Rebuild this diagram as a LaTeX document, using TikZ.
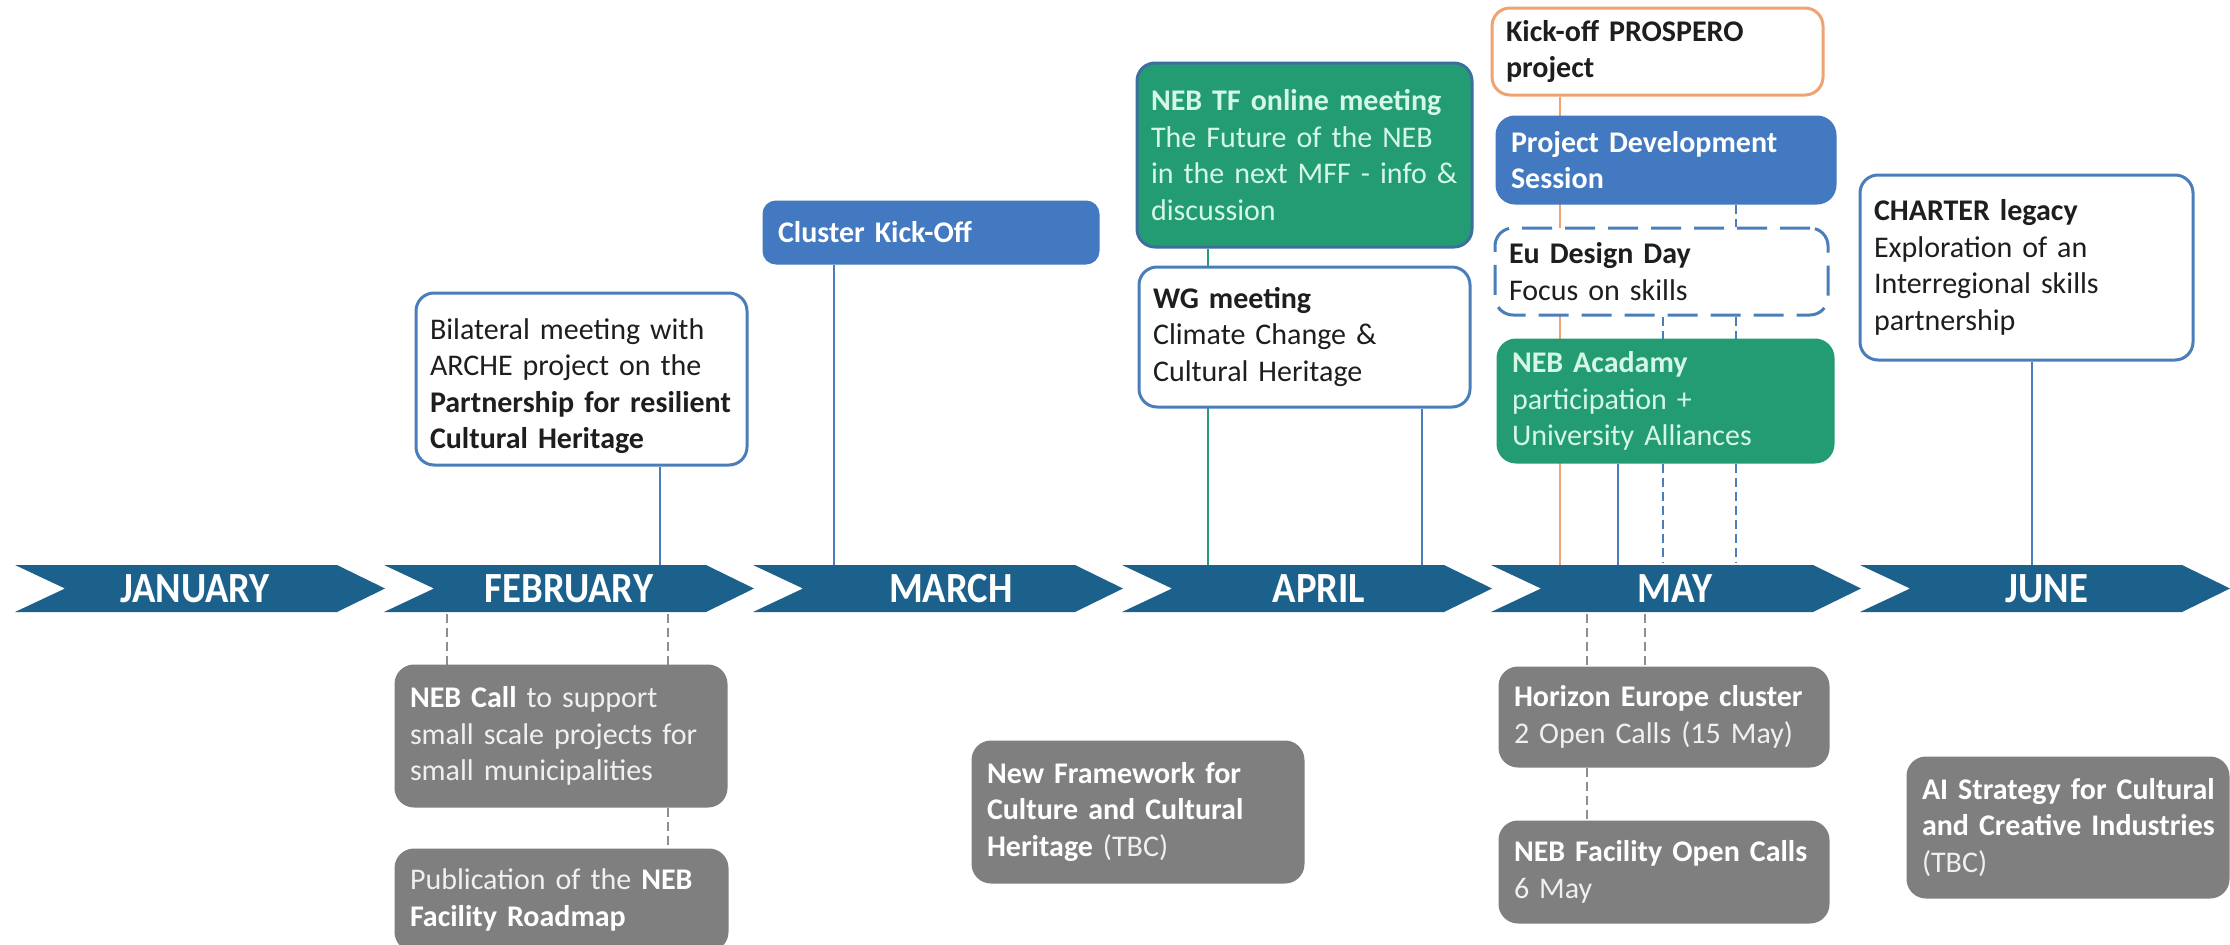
\documentclass[tikz,border=0pt]{standalone}
\usepackage{fontspec}
\setmainfont{Carlito}
\usepackage{graphicx}
\pgfdeclarelayer{back}
\pgfdeclarelayer{bg}
\pgfsetlayers{back,bg,main}
\definecolor{barblue}{HTML}{1C608C}
\definecolor{bordblue}{HTML}{4A7EBB}
\definecolor{fillblue}{HTML}{4279C0}
\definecolor{evgreen}{HTML}{239C74}
\definecolor{mint}{HTML}{D4F7E6}
\definecolor{evgray}{HTML}{7F7F7F}
\definecolor{lgray}{HTML}{F0F0F0}
\definecolor{orng}{HTML}{F0A272}
\definecolor{dgray}{HTML}{8E8E8E}
\definecolor{txt}{HTML}{1E1E1E}
\definecolor{tfborder}{HTML}{3D6E9E}
\newcommand\bodyfont{\fontsize{30}{36.6}\selectfont}
\newcommand\monthfont{\fontsize{43}{50}\selectfont\bfseries}
\newcommand\Lx[1]{\mbox{#1}}
\tikzset{
  ev/.style={rounded corners=18pt, line width=3pt, align=left, font=\bodyfont,
             inner xsep=14pt, inner ysep=0pt, text width=#1},
  wbox/.style={ev=#1, draw=bordblue, fill=white, text=txt},
  obox/.style={ev=#1, draw=orng, fill=white, text=txt},
  dbox/.style={ev=#1, draw=bordblue, fill=white, text=txt, dash pattern=on 30pt off 13pt},
  bbox/.style={ev=#1, draw=fillblue, fill=fillblue, text=white},
  gbox/.style={ev=#1, draw=evgreen, fill=evgreen, text=mint},
  tfbox/.style={ev=#1, draw=tfborder, fill=evgreen, text=mint},
  ybox/.style={ev=#1, draw=evgray, fill=evgray, text=lgray},
  month/.style={text=white, font=\monthfont, inner sep=0pt},
  bconn/.style={draw=bordblue, line width=2.5pt},
  gconn/.style={draw=evgreen, line width=2.5pt},
  oconn/.style={draw=orng, line width=2.5pt},
  bdash/.style={draw=bordblue, line width=2.5pt, dash pattern=on 9pt off 5pt},
  gdash/.style={draw=dgray, line width=2pt, dash pattern=on 9pt off 5pt},
}
\begin{document}
\begin{tikzpicture}[x=1pt,y=-1pt]
\begin{pgfonlayer}{back}
\fill[white] (0,0) rectangle (2230,945);
\end{pgfonlayer}
\useasboundingbox (0,0) rectangle (2230,945);
\clip (0,0) rectangle (2230,945);

% timeline bar
\foreach \L in {15,384,753,1122,1491,1860}{
  \fill[barblue] (\L,565) -- ++(322,0) -- ++(48,23.5) -- ++(-48,23.5) -- ++(-322,0) -- ++(50,-23.5) -- cycle;
}
\node[month] (jan) at (195,588.5) {\scalebox{0.9}[1]{JANUARY}};
\node[month] (feb) at (569,588.5) {\scalebox{0.9}[1]{FEBRUARY}};
\node[month] (mar) at (951,588.5) {\scalebox{0.9}[1]{MARCH}};
\node[month] (apr) at (1319,588.5) {\scalebox{0.9}[1]{APRIL}};
\node[month] (may) at (1675,588.5) {\scalebox{0.9}[1]{MAY}};
\node[month] (jun) at (2047,588.5) {\scalebox{0.9}[1]{JUNE}};

% anchor points on the bar
\coordinate (tBil) at (660,568);
\coordinate (tClu) at (834,568);
\coordinate (tTF) at (1208,568);
\coordinate (tWG) at (1422,568);
\coordinate (tPro) at (1560,568);
\coordinate (tAca) at (1618,568);
\coordinate (dB) at (1663,562);
\coordinate (dA) at (1736,562);
\coordinate (tCha) at (2032,568);
\coordinate (bG1) at (447,614);
\coordinate (bG2) at (668,614);
\coordinate (bG3) at (1587,614);
\coordinate (bG4) at (1645,614);

% events above
\node[wbox=303pt, minimum height=172pt, text height=35pt] (bil) at (581.5,379)
  {\Lx{Bilateral meeting with}\\\Lx{ARCHE project on the}\\\Lx{\textbf{Partnership for resilient}}\\\Lx{\textbf{Cultural Heritage}}};
\node[bbox=306pt, minimum height=61pt, rounded corners=12pt] (clu) at (931,232.5)
  {\Lx{\textbf{Cluster Kick-Off}}};
\node[tfbox=307pt, minimum height=184pt] (nebtf) at (1304.5,155)
  {\Lx{\textbf{NEB TF online meeting}}\\\Lx{The Future of the NEB}\\\Lx{in the next MFF - info \&}\\\Lx{discussion}};
\node[wbox=303pt, minimum height=140pt] (wg) at (1304.5,337)
  {\Lx{\textbf{WG meeting}}\\\Lx{Climate Change \&}\\\Lx{Cultural Heritage}};
\node[obox=303pt, minimum height=87pt] (pro) at (1657.5,51.5)
  {\Lx{\textbf{Kick-off PROSPERO}}\\\Lx{\textbf{project}}};
\node[bbox=310pt, minimum height=86pt] (pds) at (1666,160)
  {\Lx{\textbf{Project Development}}\\\Lx{\textbf{Session}}};
\node[dbox=305pt, minimum height=87pt] (eu) at (1661.5,271.5)
  {\Lx{\textbf{Eu Design Day}}\\\Lx{Focus on skills}};
\node[gbox=307pt, minimum height=122pt] (aca) at (1665.5,401)
  {\Lx{\textbf{NEB Acadamy}}\\\Lx{participation +}\\\Lx{University Alliances}};
\node[wbox=305pt, minimum height=185pt] (cha) at (2026.5,267.5)
  {\Lx{\textbf{CHARTER legacy}}\\\Lx{Exploration of an}\\\Lx{Interregional skills}\\\Lx{partnership}};

% events below
\node[ybox=302pt, minimum height=140pt] (call) at (561,736)
  {\Lx{\textbf{\color{white}NEB Call} to support}\\\Lx{small scale projects for}\\\Lx{small municipalities}};
\node[ybox=303pt, minimum height=100pt] (pub) at (561.5,900)
  {\Lx{Publication of the \textbf{\color{white}NEB}}\\\Lx{\textbf{\color{white}Facility Roadmap}}};
\node[ybox=302pt, minimum height=140pt] (nfw) at (1138,812)
  {\Lx{\textbf{\color{white}New Framework for}}\\\Lx{\textbf{\color{white}Culture and Cultural}}\\\Lx{\textbf{\color{white}Heritage} (TBC)}};
\node[ybox=300pt, minimum height=98pt] (hor) at (1664,717)
  {\Lx{\textbf{\color{white}Horizon Europe cluster}}\\\Lx{2 Open Calls (15 May)}};
\node[ybox=300pt, minimum height=100pt] (fac) at (1664,872)
  {\Lx{\textbf{\color{white}NEB Facility Open Calls}}\\\Lx{6 May}};
\node[ybox=292pt, minimum height=139pt] (ai) at (2068,827.5)
  {\Lx{\textbf{\color{white}AI Strategy for Cultural}}\\\Lx{\textbf{\color{white}and Creative Industries}}\\\Lx{(TBC)}};

% connectors
\begin{pgfonlayer}{bg}
\draw[bconn] (tBil |- bil.south) -- (tBil);
\draw[bconn] (tClu |- clu.south) -- (tClu);
\draw[gconn] (tTF |- nebtf.south) -- (tTF);
\draw[bconn] (tWG |- wg.south) -- (tWG);
\draw[oconn] (tPro |- pro.south) -- (tPro);
\draw[bconn] (tAca |- aca.south) -- (tAca);
\draw[bconn] (tCha |- cha.south) -- (tCha);
\draw[bdash] (dA |- pds.south) -- (dA |- eu.north);
\draw[bdash] (dA |- eu.south) -- (dA |- aca.north);
\draw[bdash] (dA |- aca.south) -- (dA);
\draw[bdash] (dB |- eu.south) -- (dB |- aca.north);
\draw[bdash] (dB |- aca.south) -- (dB);
\draw[gdash] (bG1) -- (bG1 |- call.north);
\draw[gdash] (bG2) -- (bG2 |- call.north);
\draw[gdash] (bG2 |- call.south) -- (bG2 |- pub.north);
\draw[gdash] (bG3) -- (bG3 |- hor.north);
\draw[gdash] (bG4) -- (bG4 |- hor.north);
\draw[gdash] (bG3 |- hor.south) -- (bG3 |- fac.north);
\end{pgfonlayer}
\end{tikzpicture}
\end{document}
